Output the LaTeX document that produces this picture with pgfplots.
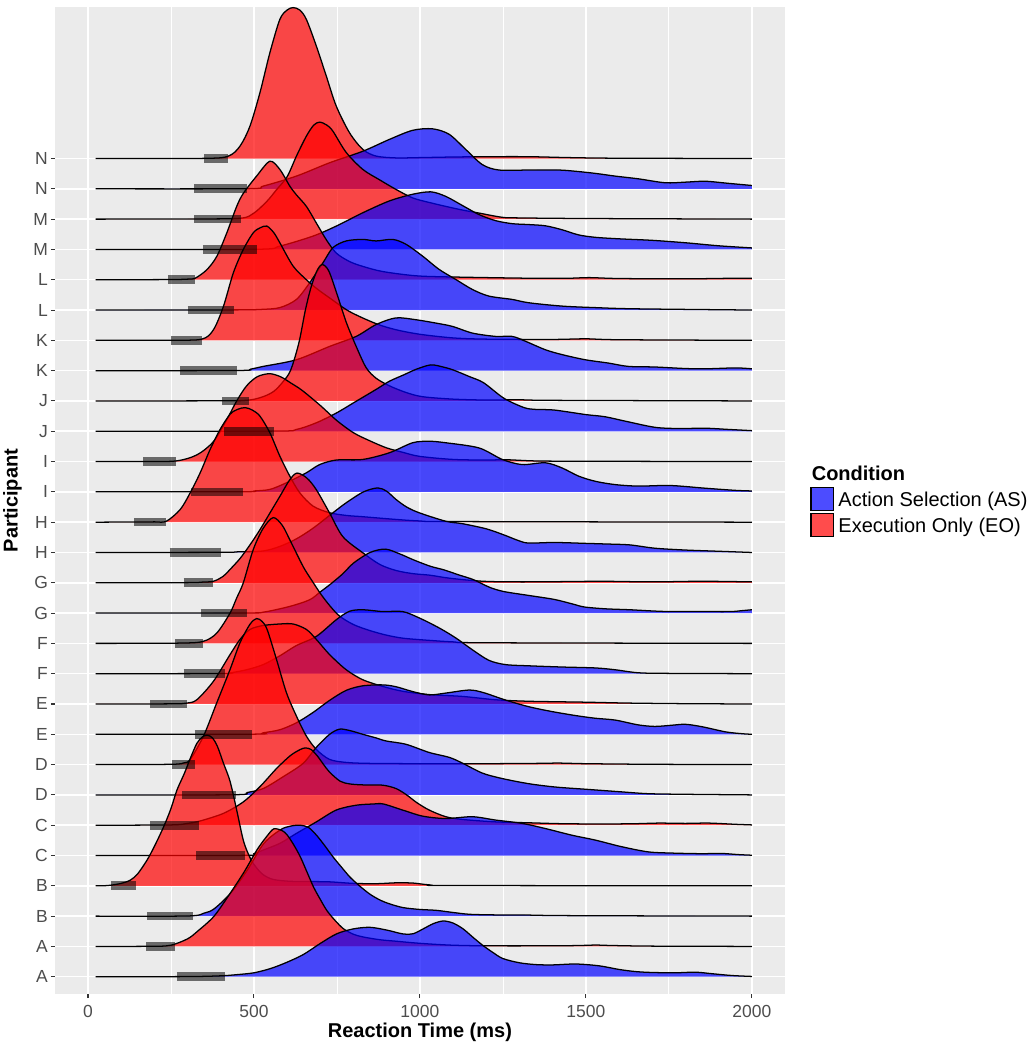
\documentclass[border=0pt]{standalone}
\usepackage{fontspec}
\setmainfont{Liberation Sans}
\usepackage{pgfplots}
\usepackage{pgfplotstable}
\pgfplotsset{compat=1.18}
\definecolor{panelbg}{HTML}{EBEBEB}
\definecolor{gray30}{HTML}{4D4D4D}
\definecolor{gray20}{HTML}{333333}
\definecolor{asblue}{RGB}{0,0,255}
\definecolor{eored}{RGB}{255,0,0}

% row 0: A (AS)
\pgfplotstableread{
t h
23 0
300 0.005
400 0.03
450 0.07
500 0.13
550 0.27
600 0.48
650 0.74
700 1.1
750 1.42
800 1.58
850 1.63
900 1.54
950 1.41
980 1.42
1010 1.58
1040 1.75
1070 1.84
1100 1.77
1130 1.58
1160 1.3
1190 1.03
1220 0.8
1250 0.6
1300 0.46
1350 0.4
1400 0.39
1470 0.42
1540 0.36
1600 0.24
1650 0.17
1700 0.14
1770 0.13
1830 0.15
1880 0.1
1940 0.04
2000 0.01
}\ridgeA
% row 1: A (EO)
\pgfplotstableread{
t h
23 0
200 0.005
250 0.04
300 0.25
330 0.5
380 1.0
430 1.78
470 2.45
510 3.2
540 3.65
560 3.88
585 3.82
600 3.68
620 3.35
640 2.95
660 2.45
680 1.95
700 1.55
720 1.18
745 0.85
770 0.58
800 0.4
830 0.31
880 0.22
930 0.17
980 0.12
1030 0.08
1100 0.04
1200 0.02
1400 0.02
1480 0.03
1530 0.045
1580 0.03
1700 0.01
2000 0
}\ridgeB
% row 2: B (AS)
\pgfplotstableread{
t h
23 0
300 0.005
350 0.1
380 0.24
430 0.76
480 1.52
530 2.4
580 2.85
610 2.97
640 3.0
665 2.92
690 2.65
715 2.3
740 1.93
765 1.6
790 1.28
820 0.98
850 0.72
880 0.53
910 0.4
950 0.28
1000 0.22
1050 0.19
1100 0.12
1150 0.06
1230 0.04
1300 0.04
1400 0.02
1600 0.01
2000 0
}\ridgeC
% row 3: B (EO)
\pgfplotstableread{
t h
23 0
60 0.01
100 0.08
128 0.19
150 0.4
178 0.85
200 1.3
228 1.95
250 2.55
268 3.16
290 3.7
308 4.2
328 4.7
345 4.92
360 4.97
375 4.88
390 4.6
408 4.05
428 3.45
448 2.5
468 1.5
485 1.0
498 0.74
515 0.5
530 0.35
558 0.21
608 0.15
680 0.14
730 0.13
800 0.08
870 0.07
930 0.1
980 0.09
1030 0.03
1100 0.01
2000 0
}\ridgeD
% row 4: C (AS)
\pgfplotstableread{
t h
23 0
470 0.005
500 0.06
528 0.18
578 0.4
628 0.73
688 1.11
748 1.5
808 1.66
860 1.7
890 1.7
948 1.5
1008 1.3
1078 1.22
1158 1.28
1228 1.17
1308 1.06
1378 0.89
1458 0.67
1528 0.51
1608 0.29
1688 0.12
1760 0.08
1850 0.06
1906 0.07
1960 0.03
2000 0.01
}\ridgeE
% row 5: C (EO)
\pgfplotstableread{
t h
23 0
250 0.01
300 0.06
338 0.14
408 0.39
468 0.77
518 1.27
568 1.87
610 2.3
640 2.5
655 2.55
672 2.5
690 2.3
710 2.0
728 1.75
760 1.45
790 1.36
830 1.33
888 1.32
928 1.21
960 1.0
990 0.75
1028 0.5
1078 0.28
1128 0.19
1228 0.11
1328 0.08
1428 0.05
1550 0.04
1650 0.05
1720 0.07
1800 0.06
1870 0.07
1950 0.03
2000 0.01
}\ridgeF
% row 6: D (AS)
\pgfplotstableread{
t h
23 0
440 0.005
480 0.08
528 0.21
588 0.6
648 1.04
688 1.57
728 2.0
758 2.17
790 2.12
828 2.0
868 1.88
898 1.78
958 1.67
1028 1.4
1088 1.24
1128 1.05
1188 0.72
1248 0.54
1328 0.37
1408 0.26
1508 0.18
1608 0.1
1688 0.04
1800 0.02
2000 0
}\ridgeG
% row 7: D (EO)
\pgfplotstableread{
t h
23 0
250 0.01
290 0.06
308 0.17
348 0.94
388 2.04
428 3.14
458 4.02
488 4.63
508 4.82
525 4.72
540 4.45
568 3.47
598 2.37
628 1.6
658 0.94
688 0.5
728 0.17
780 0.07
850 0.04
1000 0.03
1200 0.03
1350 0.04
1420 0.05
1500 0.03
1700 0.01
2000 0
}\ridgeH
% row 8: E (AS)
\pgfplotstableread{
t h
23 0
500 0.005
528 0.05
578 0.15
628 0.38
678 0.72
728 1.12
778 1.45
828 1.6
888 1.63
928 1.57
978 1.41
1028 1.3
1078 1.36
1148 1.46
1190 1.38
1258 1.13
1328 0.91
1398 0.75
1468 0.62
1528 0.53
1588 0.47
1658 0.31
1708 0.26
1760 0.3
1800 0.33
1850 0.25
1921 0.08
1970 0.02
2000 0
}\ridgeI
% row 9: E (EO)
\pgfplotstableread{
t h
23 0
250 0.005
298 0.03
328 0.14
378 0.75
428 1.63
458 2.13
488 2.46
528 2.59
578 2.64
618 2.64
658 2.46
688 2.13
728 1.63
778 1.13
828 0.8
888 0.58
948 0.42
1028 0.31
1128 0.25
1228 0.14
1328 0.09
1498 0.06
1628 0.03
1800 0.01
2000 0
}\ridgeJ
% row 10: F (AS)
\pgfplotstableread{
t h
23 0
400 0.005
430 0.03
478 0.13
528 0.3
578 0.59
628 0.93
688 1.23
748 1.78
788 2.06
828 2.11
888 2.05
948 2.05
998 1.84
1058 1.51
1108 1.18
1158 0.79
1208 0.44
1258 0.3
1328 0.26
1428 0.22
1528 0.19
1588 0.13
1658 0.03
1750 0.01
2000 0
}\ridgeK
% row 11: F (EO)
\pgfplotstableread{
t h
23 0
280 0.01
348 0.07
388 0.34
428 1.0
448 1.5
468 2.0
498 3.1
528 3.8
558 4.15
585 3.9
608 3.42
648 2.54
673 2.1
700 1.65
728 1.25
758 0.9
800 0.62
850 0.42
900 0.27
950 0.17
1028 0.1
1100 0.05
1200 0.02
2000 0
}\ridgeL
% row 12: G (AS)
\pgfplotstableread{
t h
23 0
470 0.005
528 0.03
608 0.22
668 0.44
700 0.7
730 0.95
768 1.3
800 1.65
850 2.0
896 2.11
940 1.95
980 1.76
1030 1.55
1071 1.43
1120 1.25
1162 1.1
1210 0.85
1253 0.71
1329 0.58
1405 0.45
1460 0.3
1496 0.2
1560 0.14
1632 0.11
1700 0.07
1754 0.05
1850 0.05
1936 0.05
1970 0.08
2000 0.11
}\ridgeM
% row 13: G (EO)
\pgfplotstableread{
t h
23 0
300 0.005
340 0.02
378 0.05
408 0.22
428 0.44
458 0.8
488 1.25
518 1.75
548 2.3
578 2.85
608 3.4
630 3.62
660 3.45
688 3.07
728 2.3
768 1.52
828 0.99
880 0.6
930 0.4
980 0.3
1030 0.25
1090 0.15
1190 0.05
1300 0.03
1450 0.04
1550 0.05
1700 0.03
1850 0.05
2000 0.03
}\ridgeN
% row 14: H (AS)
\pgfplotstableread{
t h
23 0
400 0.005
450 0.02
528 0.05
578 0.2
628 0.45
678 0.8
738 1.31
778 1.64
830 2.0
873 2.13
900 2.02
928 1.75
960 1.5
998 1.31
1078 1.03
1128 0.95
1200 0.78
1253 0.58
1300 0.38
1329 0.31
1405 0.33
1500 0.3
1560 0.28
1632 0.25
1708 0.14
1800 0.08
1900 0.04
2000 0
}\ridgeO
% row 15: H (EO)
\pgfplotstableread{
t h
23 0
140 0.005
200 0.01
236 0.03
278 0.42
308 0.97
338 1.63
368 2.4
398 3.06
428 3.56
450 3.72
473 3.78
495 3.7
518 3.5
548 2.95
578 2.18
608 1.52
638 0.97
678 0.53
728 0.31
780 0.22
828 0.18
928 0.09
1000 0.04
1100 0.02
2000 0
}\ridgeP
% row 16: I (AS)
\pgfplotstableread{
t h
23 0
466 0.005
500 0.03
548 0.08
598 0.3
658 0.63
698 0.9
748 1.05
828 1.07
908 1.29
978 1.62
1028 1.67
1078 1.62
1178 1.45
1248 1.07
1308 0.9
1378 0.96
1428 0.79
1478 0.52
1528 0.35
1588 0.24
1658 0.19
1754 0.21
1860 0.12
1950 0.05
2000 0.03
}\ridgeQ
% row 17: I (EO)
\pgfplotstableread{
t h
23 0
166 0.005
265 0.02
328 0.22
378 0.66
418 1.38
448 2.0
478 2.5
510 2.8
547 2.9
580 2.8
610 2.6
645 2.35
700 1.85
750 1.35
800 0.95
850 0.68
900 0.45
950 0.3
1000 0.17
1100 0.07
1200 0.05
1260 0.06
1350 0.02
1500 0.01
2000 0
}\ridgeR
% row 18: J (AS)
\pgfplotstableread{
t h
23 0
560 0.005
628 0.06
688 0.28
748 0.6
808 0.99
868 1.38
908 1.65
949 1.85
990 2.05
1033 2.19
1070 2.12
1101 2.02
1150 1.8
1192 1.6
1253 1.09
1314 0.78
1350 0.72
1405 0.7
1500 0.55
1557 0.48
1620 0.33
1708 0.13
1780 0.09
1860 0.1
1930 0.06
2000 0.02
}\ridgeS
% row 19: J (EO)
\pgfplotstableread{
t h
23 0
405 0.005
486 0.03
530 0.15
560 0.32
585 0.6
610 1.0
635 1.9
655 3.0
672 3.75
690 4.3
706 4.5
725 4.3
748 3.6
778 2.6
808 1.8
838 1.1
868 0.75
908 0.5
958 0.28
1008 0.14
1100 0.06
1200 0.03
1300 0.04
1400 0.02
2000 0
}\ridgeT
% row 20: K (AS)
\pgfplotstableread{
t h
23 0
448 0.005
490 0.05
528 0.14
628 0.36
728 0.8
808 1.13
868 1.52
928 1.74
988 1.68
1048 1.57
1098 1.46
1158 1.24
1228 1.13
1278 1.13
1318 0.97
1378 0.69
1428 0.53
1498 0.36
1568 0.25
1628 0.14
1708 0.12
1800 0.07
1860 0.06
1951 0.09
2000 0.06
}\ridgeU
% row 21: K (EO)
\pgfplotstableread{
t h
23 0
250 0.005
343 0.04
378 0.35
408 1.12
438 2.23
468 3.0
498 3.55
520 3.72
539 3.77
560 3.55
578 3.22
618 2.45
658 2.0
690 1.7
728 1.4
788 0.95
868 0.55
928 0.35
1000 0.2
1100 0.08
1200 0.04
1400 0.03
1500 0.05
1600 0.02
2000 0
}\ridgeV
% row 22: L (AS)
\pgfplotstableread{
t h
23 0
441 0.005
520 0.02
578 0.08
628 0.35
668 0.9
708 1.56
738 2.06
778 2.28
828 2.33
868 2.28
918 2.33
958 2.17
1008 1.78
1058 1.34
1108 1.01
1158 0.68
1208 0.46
1278 0.35
1328 0.24
1428 0.13
1528 0.08
1650 0.04
2000 0
}\ridgeW
% row 23: L (EO)
\pgfplotstableread{
t h
23 0
241 0.005
300 0.02
323 0.05
358 0.33
388 0.77
418 1.54
448 2.42
468 2.85
508 3.42
548 3.91
578 3.64
608 3.09
628 2.8
658 2.42
688 1.87
718 1.32
748 0.88
788 0.6
828 0.44
888 0.27
988 0.13
1100 0.09
1328 0.05
1450 0.05
1510 0.07
1600 0.04
1800 0.03
1950 0.05
2000 0.05
}\ridgeX
% row 24: M (AS)
\pgfplotstableread{
t h
23 0
508 0.005
578 0.11
678 0.44
748 0.77
828 1.21
908 1.6
978 1.82
1033 1.9
1078 1.75
1128 1.45
1178 1.15
1228 0.95
1278 0.85
1328 0.82
1378 0.78
1428 0.65
1478 0.48
1528 0.4
1600 0.35
1700 0.3
1800 0.22
1900 0.12
2000 0.05
}\ridgeY
% row 25: M (EO)
\pgfplotstableread{
t h
23 0
320 0.005
460 0.03
500 0.2
540 0.6
568 0.97
600 1.4
628 2.08
658 2.74
680 3.1
698 3.2
720 3.1
738 2.9
778 2.2
828 1.64
878 1.3
928 0.98
978 0.7
1028 0.55
1078 0.42
1128 0.3
1178 0.2
1248 0.06
1300 0.04
1500 0.02
2000 0
}\ridgeZ
% row 26: N (AS)
\pgfplotstableread{
t h
23 0
480 0.005
528 0.09
628 0.42
728 0.86
828 1.24
908 1.63
978 1.93
1038 1.98
1088 1.8
1138 1.3
1188 0.8
1238 0.62
1328 0.62
1418 0.62
1468 0.58
1528 0.51
1588 0.42
1658 0.33
1739 0.2
1800 0.22
1860 0.25
1930 0.18
2000 0.11
}\ridgeZA
% row 27: N (EO)
\pgfplotstableread{
t h
23 0
350 0.005
423 0.08
458 0.41
488 1.07
518 2.17
548 3.49
578 4.59
600 4.9
618 4.98
638 4.9
658 4.59
688 3.71
718 2.72
748 1.73
788 0.85
828 0.3
868 0.08
928 0.02
1000 0.03
1100 0.05
1200 0.06
1328 0.06
1450 0.03
1600 0.01
2000 0
}\ridgeZB

\newcommand{\ridge}[3]{%
  \addplot[draw=none, fill=#2, fill opacity=0.7, smooth, forget plot]
    table[x=t, y expr=\thisrow{h}+#1] {#3}
    -- (axis cs:2000,#1) -- (axis cs:23,#1) -- cycle;
  \addplot[black, line width=0.95pt, smooth, forget plot]
    table[x=t, y expr=\thisrow{h}+#1] {#3};
}
\newcommand{\rtbar}[3]{%
  \addplot[black, opacity=0.55, line width=6.5pt, forget plot] coordinates {(#2,#1) (#3,#1)};
}

\begin{document}
\begin{tikzpicture}
\useasboundingbox (-41.1pt,-42pt) rectangle (733.65pt,745.55pt);
\begin{axis}[
  at={(0,0)}, anchor=south west,
  scale only axis, width=547.7pt, height=740.3pt,
  xmin=-100, xmax=2100, ymin=-0.57, ymax=32.0,
  axis background/.style={fill=panelbg},
  axis line style={draw=none},
  xtick={0,500,1000,1500,2000},
  minor xtick={250,750,1250,1750},
  ytick={0,...,27},
  yticklabels={A,A,B,B,C,C,D,D,E,E,F,F,G,G,H,H,I,I,J,J,K,K,L,L,M,M,N,N},
  grid=both,
  major grid style={white, line width=1.15pt},
  minor grid style={white, line width=0.55pt},
  tick align=outside, tick pos=left,
  major tick length=3pt, minor tick length=0pt,
  tick style={gray20, line width=0.8pt},
  tick label style={font=\fontsize{13.1}{15}\selectfont, text=gray30},
  /pgf/number format/assume math mode=true,
  /pgf/number format/1000 sep={},
  xticklabel style={inner sep=2pt, yshift=-3pt},
  yticklabel style={inner sep=2pt},
  xlabel={Reaction Time (ms)},
  ylabel={Participant},
  label style={font=\fontsize{15}{18}\selectfont\bfseries},
  xlabel style={at={(axis description cs:0.5,0)}, anchor=base, yshift=-32.25pt},
  ylabel style={at={(axis description cs:-0.0579,0.5)}, anchor=center},
]
\ridge{27}{eored}{\ridgeZB}
\ridge{26}{asblue}{\ridgeZA}
\ridge{25}{eored}{\ridgeZ}
\ridge{24}{asblue}{\ridgeY}
\ridge{23}{eored}{\ridgeX}
\ridge{22}{asblue}{\ridgeW}
\ridge{21}{eored}{\ridgeV}
\ridge{20}{asblue}{\ridgeU}
\ridge{19}{eored}{\ridgeT}
\ridge{18}{asblue}{\ridgeS}
\ridge{17}{eored}{\ridgeR}
\ridge{16}{asblue}{\ridgeQ}
\ridge{15}{eored}{\ridgeP}
\ridge{14}{asblue}{\ridgeO}
\ridge{13}{eored}{\ridgeN}
\ridge{12}{asblue}{\ridgeM}
\ridge{11}{eored}{\ridgeL}
\ridge{10}{asblue}{\ridgeK}
\ridge{9}{eored}{\ridgeJ}
\ridge{8}{asblue}{\ridgeI}
\ridge{7}{eored}{\ridgeH}
\ridge{6}{asblue}{\ridgeG}
\ridge{5}{eored}{\ridgeF}
\ridge{4}{asblue}{\ridgeE}
\ridge{3}{eored}{\ridgeD}
\ridge{2}{asblue}{\ridgeC}
\ridge{1}{eored}{\ridgeB}
\ridge{0}{asblue}{\ridgeA}
\rtbar{0}{268}{413}
\rtbar{1}{175}{263}
\rtbar{2}{178}{315}
\rtbar{3}{70}{145}
\rtbar{4}{326}{473}
\rtbar{5}{188}{335}
\rtbar{6}{284}{445}
\rtbar{7}{253}{323}
\rtbar{8}{321}{493}
\rtbar{9}{188}{298}
\rtbar{10}{288}{413}
\rtbar{11}{263}{348}
\rtbar{12}{339}{478}
\rtbar{13}{288}{378}
\rtbar{14}{246}{400}
\rtbar{15}{140}{236}
\rtbar{16}{311}{466}
\rtbar{17}{166}{265}
\rtbar{18}{411}{560}
\rtbar{19}{405}{486}
\rtbar{20}{278}{448}
\rtbar{21}{250}{343}
\rtbar{22}{300}{441}
\rtbar{23}{241}{323}
\rtbar{24}{346}{508}
\rtbar{25}{320}{460}
\rtbar{26}{320}{480}
\rtbar{27}{350}{423}
\end{axis}
% legend
\node[anchor=base west, inner sep=0, font=\fontsize{15}{18}\selectfont\bfseries] at (567.6pt,385.3pt) {Condition};
\fill[asblue, fill opacity=0.7] (567.2pt,362.5pt) rectangle (584.4pt,380.0pt);
\draw[black, line width=0.8pt] (567.2pt,362.5pt) rectangle (584.4pt,380.0pt);
\fill[eored, fill opacity=0.7] (567.2pt,343.0pt) rectangle (584.4pt,360.5pt);
\draw[black, line width=0.8pt] (567.2pt,343.0pt) rectangle (584.4pt,360.5pt);
\node[anchor=base west, inner sep=0, font=\fontsize{15}{18}\selectfont] at (587.6pt,365.9pt) {Action Selection (AS)};
\node[anchor=base west, inner sep=0, font=\fontsize{15}{18}\selectfont] at (587.6pt,346.4pt) {Execution Only (EO)};
\end{tikzpicture}
\end{document}
